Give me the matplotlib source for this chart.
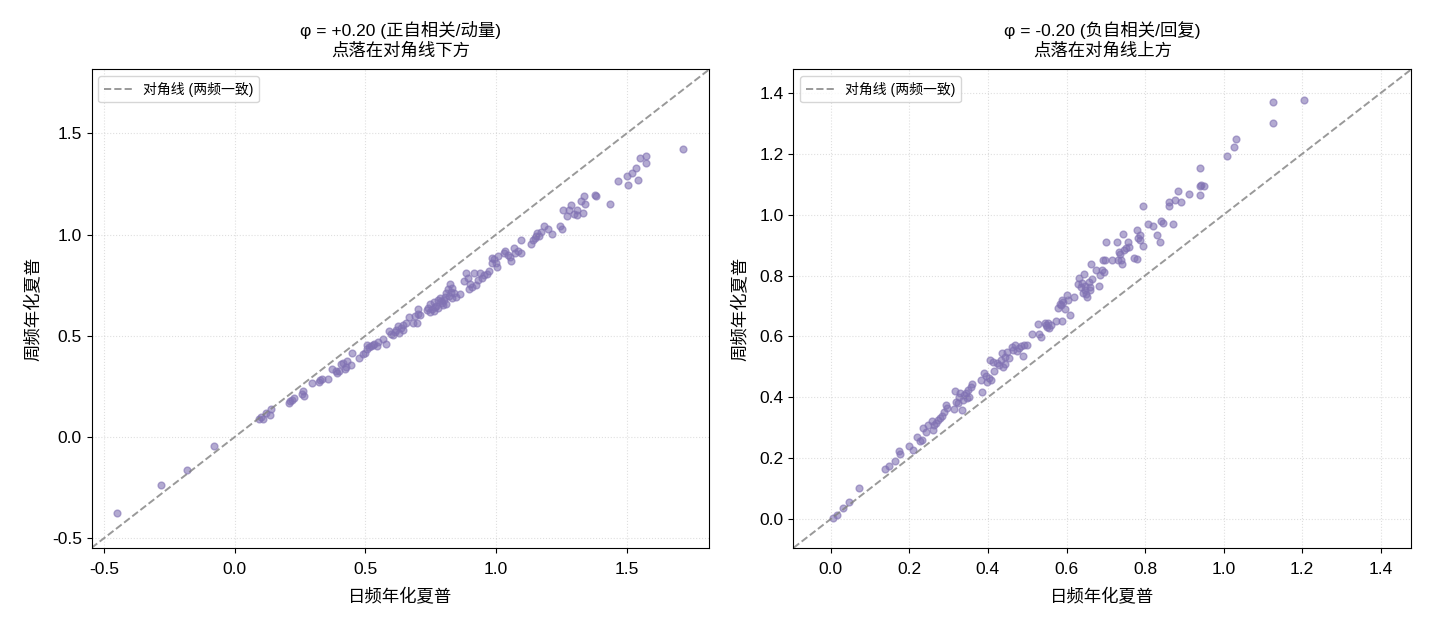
import numpy as np
import matplotlib
matplotlib.use("Agg")
import matplotlib.pyplot as plt

plt.rcParams['font.family'] = ['Liberation Sans', 'Noto Sans CJK SC', 'DejaVu Sans']
plt.rcParams['axes.unicode_minus'] = False

# phi = +0.20 : daily vs weekly annualised Sharpe
pos_daily = [
    -0.449, -0.283, -0.180, -0.077, 0.095, 0.110, 0.121, 0.139, 0.136, 0.101,
    0.207, 0.219, 0.227, 0.212, 0.260, 0.265, 0.257, 0.295, 0.321, 0.333,
    0.356, 0.325, 0.371, 0.393, 0.401, 0.416, 0.424, 0.446, 0.431, 0.449,
    0.408, 0.474, 0.492, 0.499, 0.507, 0.522, 0.534, 0.549, 0.567, 0.579,
    0.530, 0.514, 0.590, 0.605, 0.616, 0.625, 0.635, 0.646, 0.628, 0.598,
    0.654, 0.666, 0.681, 0.696, 0.691, 0.703, 0.711, 0.703, 0.741, 0.749,
    0.756, 0.764, 0.772, 0.779, 0.787, 0.794, 0.802, 0.809, 0.817, 0.825,
    0.832, 0.840, 0.847, 0.832, 0.809, 0.749, 0.761, 0.779, 0.797, 0.821,
    0.877, 0.885, 0.893, 0.897, 0.908, 0.923, 0.930, 0.938, 0.946, 0.965,
    0.973, 0.983, 0.991, 1.003, 1.006, 0.983, 0.915, 1.029, 1.044, 1.059,
    1.067, 1.082, 1.094, 1.097, 1.054, 1.135, 1.142, 1.150, 1.157, 1.165,
    1.185, 1.200, 1.215, 1.245, 1.251, 1.256, 1.271, 1.286, 1.297, 1.309,
    1.331, 1.324, 1.336, 1.339, 1.377, 1.381, 1.434, 1.467, 1.502, 1.505,
    1.520, 1.536, 1.543, 1.551, 1.573, 1.573, 1.713,
    0.386, 0.428, 0.507, 0.545, 0.613, 0.643, 0.734, 0.767, 0.791, 0.806,
    0.828, 0.862, 0.900, 0.953, 0.998, 1.036, 1.074, 1.154, 1.172, 1.278,
    1.309,
]
pos_weekly = [
    -0.373, -0.238, -0.164, -0.046, 0.090, 0.090, 0.117, 0.137, 0.107, 0.100,
    0.169, 0.183, 0.194, 0.178, 0.227, 0.202, 0.214, 0.265, 0.271, 0.288,
    0.285, 0.281, 0.334, 0.314, 0.326, 0.367, 0.334, 0.354, 0.375, 0.416,
    0.359, 0.391, 0.408, 0.416, 0.456, 0.449, 0.462, 0.469, 0.482, 0.461,
    0.457, 0.446, 0.523, 0.502, 0.531, 0.548, 0.539, 0.551, 0.515, 0.507,
    0.564, 0.592, 0.564, 0.561, 0.597, 0.610, 0.605, 0.633, 0.638, 0.655,
    0.630, 0.666, 0.646, 0.676, 0.688, 0.663, 0.679, 0.712, 0.729, 0.758,
    0.737, 0.712, 0.692, 0.688, 0.655, 0.617, 0.622, 0.638, 0.650, 0.699,
    0.770, 0.811, 0.786, 0.729, 0.742, 0.753, 0.775, 0.808, 0.786, 0.803,
    0.819, 0.860, 0.877, 0.840, 0.893, 0.885, 0.811, 0.910, 0.901, 0.868,
    0.934, 0.918, 0.910, 0.975, 0.890, 0.951, 0.975, 0.984, 1.008, 0.992,
    1.041, 1.025, 1.005, 1.041, 1.028, 1.123, 1.090, 1.148, 1.099, 1.094,
    1.107, 1.164, 1.189, 1.153, 1.197, 1.189, 1.153, 1.266, 1.288, 1.247,
    1.304, 1.329, 1.271, 1.378, 1.387, 1.354, 1.423,
    0.326, 0.347, 0.433, 0.452, 0.518, 0.528, 0.627, 0.643, 0.673, 0.692,
    0.715, 0.704, 0.758, 0.798, 0.860, 0.918, 0.910, 0.995, 1.012, 1.120,
    1.123,
]

# phi = -0.20
neg_daily = [
    0.005, 0.015, 0.030, 0.047, 0.071, 0.139, 0.148, 0.164, 0.173, 0.176,
    0.200, 0.209, 0.219, 0.227, 0.232, 0.235, 0.242, 0.247, 0.257, 0.259,
    0.268, 0.272, 0.279, 0.287, 0.293, 0.296, 0.282, 0.313, 0.316, 0.323,
    0.326, 0.333, 0.336, 0.343, 0.348, 0.353, 0.358, 0.360, 0.338, 0.328,
    0.385, 0.383, 0.390, 0.396, 0.403, 0.408, 0.406, 0.416, 0.414, 0.424,
    0.434, 0.439, 0.437, 0.444, 0.449, 0.454, 0.461, 0.469, 0.474, 0.484,
    0.489, 0.491, 0.499, 0.444, 0.511, 0.528, 0.531, 0.535, 0.545, 0.550,
    0.555, 0.560, 0.572, 0.588, 0.578, 0.583, 0.588, 0.595, 0.600, 0.605,
    0.610, 0.618, 0.592, 0.628, 0.633, 0.638, 0.642, 0.645, 0.648, 0.652,
    0.656, 0.661, 0.666, 0.676, 0.683, 0.686, 0.691, 0.696, 0.663, 0.650,
    0.692, 0.699, 0.701, 0.716, 0.729, 0.731, 0.737, 0.741, 0.744, 0.746,
    0.751, 0.756, 0.759, 0.772, 0.780, 0.780, 0.786, 0.787, 0.795, 0.795,
    0.739, 0.807, 0.820, 0.830, 0.837, 0.840, 0.845, 0.860, 0.862, 0.872,
    0.875, 0.885, 0.891, 0.911, 0.940, 0.941, 0.943, 0.950, 0.941, 1.008,
    1.026, 1.031, 1.125, 1.125, 1.205,
    0.262, 0.318, 0.346, 0.398, 0.429, 0.464, 0.479, 0.548, 0.552, 0.585,
    0.640, 0.648, 0.659, 0.733, 0.782,
]
neg_weekly = [
    0.003, 0.014, 0.036, 0.056, 0.103, 0.164, 0.175, 0.191, 0.225, 0.213,
    0.240, 0.227, 0.271, 0.255, 0.260, 0.298, 0.287, 0.309, 0.323, 0.293,
    0.315, 0.326, 0.331, 0.350, 0.375, 0.364, 0.339, 0.361, 0.421, 0.380,
    0.402, 0.358, 0.391, 0.413, 0.424, 0.402, 0.433, 0.444, 0.408, 0.413,
    0.416, 0.457, 0.479, 0.470, 0.462, 0.457, 0.522, 0.486, 0.517, 0.514,
    0.522, 0.501, 0.544, 0.508, 0.550, 0.528, 0.564, 0.572, 0.553, 0.568,
    0.536, 0.572, 0.572, 0.533, 0.608, 0.640, 0.608, 0.599, 0.643, 0.632,
    0.626, 0.637, 0.650, 0.650, 0.692, 0.708, 0.719, 0.689, 0.736, 0.721,
    0.672, 0.730, 0.714, 0.772, 0.793, 0.763, 0.743, 0.804, 0.754, 0.728,
    0.779, 0.763, 0.790, 0.817, 0.767, 0.801, 0.817, 0.812, 0.839, 0.738,
    0.852, 0.850, 0.910, 0.850, 0.910, 0.850, 0.872, 0.839, 0.936, 0.883,
    0.889, 0.910, 0.894, 0.859, 0.856, 0.949, 0.916, 0.932, 0.896, 1.027,
    0.850, 0.968, 0.962, 0.932, 0.910, 0.979, 0.973, 1.042, 1.028, 0.970,
    1.049, 1.077, 1.042, 1.069, 1.066, 1.093, 1.096, 1.093, 1.154, 1.192,
    1.222, 1.249, 1.302, 1.369, 1.377,
    0.309, 0.386, 0.397, 0.451, 0.506, 0.555, 0.561, 0.637, 0.645, 0.703,
    0.774, 0.765, 0.754, 0.878, 0.925,
]

panels = [
    (pos_daily, pos_weekly, 'φ = +0.20 (正自相关/动量)\n点落在对角线下方', (-0.547, 1.816)),
    (neg_daily, neg_weekly, 'φ = -0.20 (负自相关/回复)\n点落在对角线上方', (-0.095, 1.478)),
]

fig, axes = plt.subplots(1, 2, figsize=(14.3, 6.24), dpi=100)
fig.subplots_adjust(left=0.064, right=0.987, bottom=0.122, top=0.889, wspace=0.136)

for ax, (xd, yd, title, lim) in zip(axes, panels):
    ax.scatter(xd, yd, s=24, color='#8172B3', alpha=0.6)
    ax.plot(lim, lim, '--', color='gray', alpha=0.8, lw=1.4, label='对角线 (两频一致)')
    ax.set_xlim(lim)
    ax.set_ylim(lim)
    ax.set_title(title, fontsize=12.5, pad=10)
    ax.set_xlabel('日频年化夏普', fontsize=12.5, labelpad=7.5)
    ax.set_ylabel('周频年化夏普', fontsize=12.5, labelpad=7.5)
    ax.tick_params(labelsize=12.5)
    ax.tick_params(axis='x', pad=7)
    ax.grid(True, linestyle=':', alpha=0.4)
    ax.legend(loc='upper left', fontsize=10)

axes[0].set_xticks([-0.5, 0.0, 0.5, 1.0, 1.5])
axes[0].set_yticks([-0.5, 0.0, 0.5, 1.0, 1.5])

fig.savefig('out.png', dpi=100)
